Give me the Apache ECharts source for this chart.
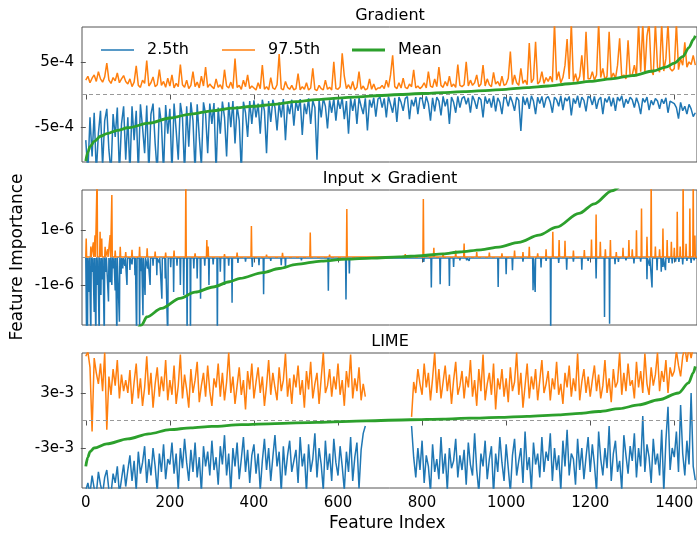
<!DOCTYPE html>
<html>
<head>
<meta charset="utf-8">
<script src="https://cdn.jsdelivr.net/npm/echarts@6/dist/echarts.min.js"></script>
<style>
  html, body { margin: 0; padding: 0; background: #fff; }
  #main { width: 697px; height: 533px; }
</style>
</head>
<body>
<div id="main"></div>
<script>
// noisy percentile lines are sampled every STEP feature indices
var STEP = 5;
var xTicks = [0, 200, 400, 600, 800, 1000, 1200, 1400];

// ---- Gradient (values in units of 1e-5) ----
var gradUnit = 1e-5;
var gradHi = [
  22,28,18,25,30,20,35,24,19,27,48,22,17,26,21,33,18,24,29,20,
  16,24,12,19,44,14,11,22,17,52,13,18,27,12,15,38,14,20,11,25,
  13,30,10,17,12,46,15,11,22,9,14,35,12,19,10,28,13,42,11,16,
  12,9,24,11,15,8,38,13,10,19,9,55,11,14,8,22,12,30,9,13,
  10,7,18,9,45,8,12,7,26,10,8,15,62,9,7,20,11,8,14,7,
  9,32,7,12,8,18,7,10,40,8,6,14,9,7,22,8,11,7,50,9,
  8,12,63,28,9,15,8,20,7,11,35,8,13,7,9,24,8,16,7,10,
  10,14,9,22,11,30,60,12,9,18,10,25,11,9,16,12,38,10,13,9,
  12,18,10,35,13,11,24,12,42,14,11,20,13,28,12,16,11,46,14,12,
  15,50,13,22,14,18,30,12,16,45,13,24,15,12,34,16,20,13,28,14,
  16,25,66,15,30,18,14,40,17,22,15,79,18,24,81,16,20,35,17,26,
  20,28,19,110,22,35,18,26,45,85,24,110,20,32,19,28,60,21,96,24,
  24,35,22,30,110,26,40,23,28,96,25,33,24,45,86,27,30,24,83,28,
  30,45,28,110,35,110,32,90,110,38,30,110,42,34,110,36,55,110,40,36,
  40,110,38,55,45,80,42,50,46,60,45
];
var gradLo = [
  -70,-120,-35,-95,-28,-120,-60,-25,-110,-40,-22,-85,-120,-30,-65,-20,-120,-45,-18,-100,
  -35,-120,-18,-70,-25,-120,-15,-50,-90,-17,-120,-30,-14,-75,-120,-20,-45,-120,-16,-60,
  -22,-120,-14,-55,-100,-13,-35,-120,-18,-80,-12,-40,-120,-15,-65,-110,-12,-30,-90,-14,
  -45,-13,-120,-20,-60,-11,-35,-95,-12,-50,-10,-75,-18,-40,-120,-11,-28,-65,-10,-45,
  -9,-35,-14,-60,-8,-25,-90,-10,-42,-8,-20,-55,-12,-35,-7,-70,-15,-30,-8,-48,
  -10,-25,-7,-62,-14,-30,-6,-45,-9,-20,-100,-8,-35,-6,-18,-52,-9,-28,-6,-40,
  -8,-22,-5,-38,-10,-60,-6,-25,-7,-45,-5,-18,-30,-6,-55,-8,-20,-5,-34,-7,
  -4,-20,-6,-35,-3,-15,-28,-5,-42,-4,-12,-25,-6,-3,-38,-8,-18,-4,-30,-5,
  -6,-22,-3,-14,-40,-5,-26,-4,-10,-32,-3,-18,-7,-45,-4,-12,-28,-3,-20,-6,
  -3,-15,-5,-28,-2,-10,-22,-4,-8,-35,-3,-14,-6,-20,-2,-26,-5,-12,-30,-4,
  -6,-18,-3,-12,-25,-4,-9,-56,-3,-16,-5,-22,-2,-10,-30,-4,-14,-3,-20,-6,
  -3,-12,-28,-4,-8,-18,-2,-24,-5,-10,-3,-32,-6,-14,-2,-20,-4,-9,-26,-3,
  -5,-16,-3,-22,-8,-4,-30,-6,-12,-3,-18,-5,-25,-4,-10,-2,-20,-7,-14,-4,
  -8,-20,-5,-14,-30,-6,-12,-4,-24,-9,-16,-6,-10,-22,-7,-14,-5,-28,-10,-12,
  -14,-20,-37,-12,-25,-18,-30,-15,-22,-34,-28
];
var gradMeanIdx = [0,5,10,20,35,50,75,100,150,200,250,300,350,400,450,500,550,600,650,700,750,800,850,900,950,1000,1050,1100,1150,1200,1250,1300,1350,1380,1400,1420,1435,1445,1450];
var gradMeanVal = [-102,-88,-80,-72,-64,-60,-55,-51,-44,-36,-30,-25,-21,-18,-15,-11,-8,-5.5,-3.5,-1.5,0,1.5,3,4.5,6,8,10.5,13,16.5,20,24,29,36,42,48,58,72,84,90];

// ---- Input x Gradient (values in units of 1e-8, sparse spikes) ----
var ixgUnit = 1e-8;
var ixgHiBase = 2;
var ixgHiIdx = [1,12,18,22,27,34,38,46,52,58,62,70,82,95,110,128,146,165,190,210,238,260,288,291,330,360,394,430,468,500,534,580,621,700,760,803,828,850,880,900,930,960,990,1020,1040,1055,1075,1095,1111,1126,1140,1160,1186,1203,1214,1224,1236,1248,1262,1278,1292,1300,1310,1322,1335,1345,1355,1365,1373,1383,1393,1400,1407,1414,1421,1428,1437,1445,1449];
var ixgHiVal = [69,40,55,81,300,93,69,39,30,81,227,25,39,20,28,39,33,22,18,25,300,15,63,40,12,18,114,10,17,8,91,10,176,8,12,212,35,15,25,51,20,18,15,25,20,39,15,30,93,63,61,25,27,65,156,57,30,63,20,35,63,30,99,178,75,300,40,30,105,63,57,35,166,40,300,50,178,300,80];
var ixgLoBase = -2;
var ixgLoIdx = [2,4,8,12,16,20,24,28,32,36,40,44,48,54,58,62,66,70,74,80,84,88,93,98,105,110,117,121,128,132,136,141,147,153,160,169,175,181,189,195,202,209,217,225,233,241,249,257,265,273,283,293,303,313,320,330,340,348,362,380,396,412,423,440,465,475,513,545,577,600,619,627,660,700,740,775,804,822,843,865,875,890,906,912,940,981,1000,1015,1040,1064,1069,1083,1095,1106,1125,1144,1160,1180,1195,1214,1234,1246,1259,1267,1285,1304,1320,1335,1341,1347,1359,1369,1373,1379,1387,1395,1403,1411,1420,1430,1440,1447];
var ixgLoVal = [-300,-300,-125,-300,-52,-198,-300,-100,-300,-136,-80,-300,-52,-160,-90,-100,-40,-120,-300,-233,-60,-40,-30,-100,-45,-25,-64,-300,-300,-50,-210,-136,-40,-100,-30,-64,-20,-150,-76,-300,-35,-125,-30,-100,-136,-300,-300,-40,-76,-150,-30,-100,-25,-300,-52,-100,-30,-164,-20,-15,-34,-28,-133,-12,-28,-34,-10,-8,-121,-10,-152,-58,-6,-8,-5,-6,-16,-109,-97,-103,-34,-10,-10,-12,-8,-107,-61,-46,-15,-119,-125,-36,-12,-300,-20,-44,-15,-44,-12,-76,-216,-240,-24,-16,-10,-22,-15,-79,-30,-109,-46,-52,-34,-46,-20,-22,-15,-16,-25,-12,-20,-10];
var ixgMeanIdx = [110,133,145,180,224,260,303,342,367,421,460,501,560,620,680,746,800,850,889,940,983,1030,1078,1120,1173,1210,1251,1290];
var ixgMeanVal = [-300,-245,-216,-185,-148,-126,-107,-88,-76,-55,-40,-25,-13,-6,-2,2,7,13,20,28,38,55,81,110,160,195,242,290];

// ---- LIME (values in units of 1e-4, gap where no estimate) ----
var limeUnit = 1e-4;
var limeHi = [
  70,75,58,-12,68,52,40,62,32,74,-10,48,28,56,38,66,24,50,32,44,
  30,55,18,42,62,24,46,16,36,70,28,52,14,40,58,26,48,32,66,22,
  44,28,60,18,38,72,24,50,34,14,56,30,44,64,20,38,52,26,60,32,
  16,46,36,62,26,52,22,42,74,30,48,18,38,58,28,44,12,54,34,62,
  24,42,58,30,48,16,38,66,28,52,36,22,58,32,44,73,26,46,18,50,
  36,60,28,44,14,54,34,64,24,40,52,18,46,74,30,38,56,26,48,34,
  62,28,44,16,54,36,72,24,46,32,58,22,40,26,null,null,null,null,null,null,
  null,null,null,null,null,null,null,null,null,null,null,null,null,null,null,4,42,30,56,40,
  28,62,36,52,22,46,74,30,56,24,42,60,32,50,18,44,64,28,38,54,
  24,48,36,66,26,44,16,56,32,72,22,40,52,28,62,12,46,34,56,26,
  46,20,58,32,42,74,28,52,14,38,62,24,48,34,56,22,44,66,30,40,
  54,22,46,34,64,28,40,18,52,36,60,26,46,32,73,22,42,56,30,48,
  26,44,60,32,50,24,38,66,30,46,20,56,36,42,74,28,52,32,62,38,
  44,24,64,36,54,30,73,40,28,58,38,50,74,32,54,42,66,30,58,48,
  54,76,60,48,70,80,64,80,68,80,76
];
var limeLo = [
  -76,-68,-80,-60,-74,-80,-56,-70,-80,-62,-54,-76,-80,-58,-68,-50,-80,-64,-48,-72,
  -54,-38,-66,-44,-76,-34,-58,-46,-28,-68,-42,-60,-30,-50,-78,-36,-56,-26,-64,-42,
  -48,-24,-58,-36,-76,-30,-52,-20,-46,-66,-32,-56,-24,-62,-40,-78,-28,-50,-34,-60,
  -22,-54,-40,-70,-28,-48,-16,-60,-36,-78,-30,-50,-24,-64,-42,-18,-56,-32,-68,-38,
  -26,-58,-36,-76,-44,-20,-54,-30,-66,-40,-16,-50,-34,-78,-28,-60,-38,-22,-56,-44,
  -32,-68,-18,-50,-36,-78,-26,-56,-42,-14,-62,-30,-48,-76,-22,-54,-36,-66,-20,-46,
  -60,-28,-50,-76,-34,-56,-18,-66,-40,-24,-74,-32,-14,-6,null,null,null,null,null,null,
  null,null,null,null,null,null,null,null,null,null,null,null,null,null,null,-6,-40,-62,-30,-54,
  -22,-68,-38,-50,-78,-26,-56,-42,-64,-18,-58,-36,-76,-30,-52,-44,-20,-62,-38,-54,
  -32,-70,-24,-48,-60,-14,-54,-78,-36,-50,-22,-64,-42,-28,-80,-36,-56,-18,-46,-66,
  -26,-52,-78,-38,-20,-60,-44,-30,-68,-12,-54,-40,-76,-24,-48,-36,-62,-18,-56,-34,
  -44,-14,-66,-30,-54,-38,-76,-22,-50,-10,-60,-36,-42,-70,-20,-54,-30,-64,-40,-18,
  -56,-26,-48,-78,-12,-42,-60,-30,-52,-6,-66,-36,-22,-56,-44,-76,-16,-38,-58,-28,
  -44,-14,-62,-30,-50,5,-56,-26,-40,-68,-20,-48,-36,-60,-10,-78,-22,15,-54,-30,
  -40,-12,-56,17,-36,-60,-22,-48,30,-50,-65
];
var limeMeanIdx = [0,5,10,20,50,100,150,200,250,300,370,450,550,667,772,850,913,983,1050,1125,1175,1220,1270,1315,1363,1410,1434,1445,1450];
var limeMeanVal = [-50,-40,-34,-30,-25.5,-20,-14.5,-10,-8,-6.5,-4.5,-3.3,-2,-0.3,0.8,1.6,2.6,3.3,4.5,6.2,7.8,9.8,13,17,22.6,30,41,52,59];

// panel settings: title, y range, y ticks
var panelTitles = ['Gradient', 'Input \u00d7 Gradient', 'LIME'];
var yMax = [1.035e-3, 2.45e-6, 7.36e-3];
var yTicks = [[-5e-4, 5e-4], [-1e-6, 1e-6], [-3e-3, 3e-3]];
var yLabels = [['-5e-4', '5e-4'], ['-1e-6', '1e-6'], ['-3e-3', '3e-3']];

var gridTop = [27, 190, 353];
var gridH = 135;
var FONT = 'DejaVu Sans';
var BLUE = '#1f77b4', ORANGE = '#ff7f0e', GREEN = '#2ca02c';

function sampled(vals, unit) {
  return vals.map(function (v, i) { return [i * STEP, v == null ? '-' : v * unit]; });
}
function paired(idx, vals, unit) {
  return idx.map(function (x, i) { return [x, vals[i] * unit]; });
}
function spikes(idx, vals, base, unit) {
  var pts = [[0, base * unit]];
  for (var i = 0; i < idx.length; i++) {
    pts.push([idx[i] - 1, base * unit], [idx[i], vals[i] * unit], [idx[i] + 1, base * unit]);
  }
  pts.push([1454, base * unit]);
  return pts;
}

var loData = [sampled(gradLo, gradUnit), spikes(ixgLoIdx, ixgLoVal, ixgLoBase, ixgUnit), sampled(limeLo, limeUnit)];
var hiData = [sampled(gradHi, gradUnit), spikes(ixgHiIdx, ixgHiVal, ixgHiBase, ixgUnit), sampled(limeHi, limeUnit)];
var meanData = [paired(gradMeanIdx, gradMeanVal, gradUnit), paired(ixgMeanIdx, ixgMeanVal, ixgUnit), paired(limeMeanIdx, limeMeanVal, limeUnit)];

var grids = [], xAxes = [], yAxes = [], series = [], titles = [];
for (var k = 0; k < 3; k++) {
  grids.push({ left: 82, top: gridTop[k], width: 616, height: gridH, show: true,
    borderColor: '#555', borderWidth: 1, backgroundColor: 'transparent' });
  xAxes.push({
    gridIndex: k, type: 'value', min: -9, max: 1454,
    axisLine: { show: false }, splitLine: { show: false },
    axisTick: { show: true, customValues: xTicks, length: 5, lineStyle: { color: '#555' } },
    axisLabel: { show: k === 2, customValues: xTicks, fontSize: 15, color: '#000', fontFamily: FONT, margin: 8,
      formatter: function (v) { return String(v); } }
  });
  (function (kk) {
    yAxes.push({
      gridIndex: kk, type: 'value', min: -yMax[kk], max: yMax[kk],
      axisLine: { show: false }, splitLine: { show: false },
      axisTick: { show: true, customValues: yTicks[kk], length: 5, lineStyle: { color: '#555' } },
      axisLabel: {
        customValues: yTicks[kk], fontSize: 15, color: '#000', fontFamily: FONT, margin: 8,
        formatter: function (v) {
          for (var j = 0; j < yTicks[kk].length; j++) {
            if (Math.abs(yTicks[kk][j] - v) <= Math.abs(yTicks[kk][j]) * 1e-6) return yLabels[kk][j];
          }
          return '';
        }
      }
    });
  })(k);
  titles.push({ text: panelTitles[k], left: 390, textAlign: 'center', top: gridTop[k] - 19, padding: 0,
    textStyle: { fontSize: 16, fontWeight: 'normal', color: '#000', fontFamily: FONT } });

  series.push({ name: '2.5th', type: 'line', xAxisIndex: k, yAxisIndex: k, data: loData[k],
    showSymbol: false, symbol: 'none', lineStyle: { color: BLUE, width: 1.5 }, itemStyle: { color: BLUE } });
  series.push({ name: '97.5th', type: 'line', xAxisIndex: k, yAxisIndex: k, data: hiData[k],
    showSymbol: false, symbol: 'none', lineStyle: { color: ORANGE, width: 1.5 }, itemStyle: { color: ORANGE } });
  series.push({ name: 'zero', type: 'line', xAxisIndex: k, yAxisIndex: k, data: [[-9, 0], [1454, 0]],
    showSymbol: false, symbol: 'none', silent: true,
    lineStyle: { color: '#999', width: 1, type: [4, 3] } });
  series.push({ name: 'Mean', type: 'line', xAxisIndex: k, yAxisIndex: k, data: meanData[k],
    showSymbol: false, symbol: 'none', smooth: 0.3, smoothMonotone: 'x',
    lineStyle: { color: GREEN, width: 2.8 }, itemStyle: { color: GREEN } });
}

// one legend box per entry so each sample line gets its own thickness
var legendNames = ['2.5th', '97.5th', 'Mean'];
var legendLeft = [96, 217, 347];
var legendThick = [1.5, 1.5, 3];
var legends = legendNames.map(function (n, i) {
  return {
    left: legendLeft[i], top: 37, itemWidth: 33, itemHeight: legendThick[i], icon: 'rect',
    data: [n], selectedMode: false,
    textStyle: { fontSize: 16, color: '#000', fontFamily: FONT, padding: [0, 0, 0, 8] }
  };
});

var chart = echarts.init(document.getElementById('main'), null, { renderer: 'canvas' });
chart.setOption({
  animation: false,
  backgroundColor: '#fff',
  title: titles,
  grid: grids,
  xAxis: xAxes,
  yAxis: yAxes,
  legend: legends,
  graphic: [
    { type: 'text', left: 390 - 61, top: 515, style: { text: 'Feature Index', fontSize: 17, fontFamily: FONT, fill: '#000' } },
    { type: 'text', x: 18, y: 257, rotation: Math.PI / 2, style: { text: 'Feature Importance', fontSize: 17, fontFamily: FONT, fill: '#000', align: 'center', verticalAlign: 'middle' } }
  ],
  series: series
});
</script>
</body>
</html>
